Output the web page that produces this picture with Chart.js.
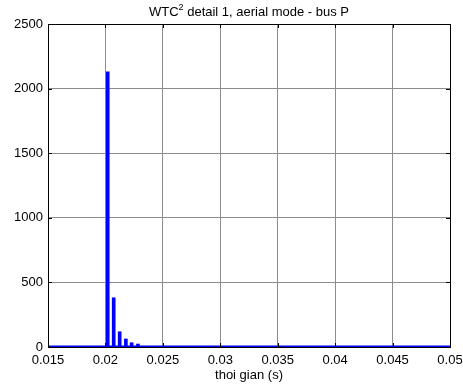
<!DOCTYPE html>
<html><head><meta charset="utf-8">
<script src="https://cdn.jsdelivr.net/npm/chart.js@4/dist/chart.umd.min.js"></script>
<style>html,body{margin:0;padding:0;background:#fff}#wrap{width:463px;height:385px}</style>
</head><body><div id="wrap"><canvas id="c" width="463" height="385"></canvas></div>
<script>
const titleMain = 'WTC';
const titleSup = '2';
const titleRest = ' detail 1, aerial mode - bus P';
const xTitle = 'thoi gian (s)';
const spikeTimes = [0.0202, 0.02072, 0.02124, 0.02178, 0.02228, 0.02283];
const spikeValues = [2130, 381, 118, 62, 33, 23];
const baseTimes = [0.015, 0.05];
const baseValues = [0, 0];
const xTicks = [0.015, 0.02, 0.025, 0.03, 0.035, 0.04, 0.045, 0.05];
const yTicks = [0, 500, 1000, 1500, 2000, 2500];

const FAM = '"Liberation Sans", Arial, sans-serif';
const FONT = {family: FAM, size: 13};

const inwardTicks = {
  id: 'inwardTicks',
  afterDatasetsDraw(chart) {
    const {ctx, chartArea: a, scales: {x, y}} = chart;
    ctx.save();
    ctx.strokeStyle = '#000'; ctx.lineWidth = 1;
    ctx.beginPath();
    xTicks.forEach(v => { const px = Math.round(x.getPixelForValue(v)) + 0.5;
      ctx.moveTo(px, a.top); ctx.lineTo(px, a.top + 4);
      ctx.moveTo(px, a.bottom); ctx.lineTo(px, a.bottom - 4); });
    yTicks.forEach(v => { const py = Math.round(y.getPixelForValue(v)) + 0.5;
      ctx.moveTo(a.left, py); ctx.lineTo(a.left + 4, py);
      ctx.moveTo(a.right, py); ctx.lineTo(a.right - 4, py); });
    ctx.stroke();
    ctx.strokeRect(Math.round(a.left) + 0.5, Math.round(a.top) + 0.5, Math.round(a.right - a.left), Math.round(a.bottom - a.top));
    ctx.fillStyle = '#000';
    ctx.textBaseline = 'alphabetic';
    ctx.font = '13px ' + FAM;
    const w1 = ctx.measureText(titleMain).width, w3 = ctx.measureText(titleRest).width;
    ctx.font = '9px ' + FAM;
    const w2 = ctx.measureText(titleSup).width;
    const total = w1 + w2 + w3;
    let tx = (a.left + a.right) / 2 - total / 2;
    const base = 16;
    ctx.textAlign = 'left';
    ctx.font = '13px ' + FAM; ctx.fillText(titleMain, tx, base); tx += w1;
    ctx.font = '9px ' + FAM; ctx.fillText(titleSup, tx, base - 6); tx += w2;
    ctx.font = '13px ' + FAM; ctx.fillText(titleRest, tx, base);
    ctx.restore();
  }
};

new Chart(document.getElementById('c'), {
  type: 'bar',
  data: {
    datasets: [
      { type: 'bar', data: spikeTimes.map((t, i) => ({x: t, y: spikeValues[i]})),
        backgroundColor: '#0000ff', borderWidth: 0, barThickness: 3, order: 1 },
      { type: 'line', data: baseTimes.map((t, i) => ({x: t, y: baseValues[i]})),
        borderColor: '#0000ff', borderWidth: 3, pointRadius: 0, order: 0 }
    ]
  },
  options: {
    responsive: false, animation: false,
    layout: {padding: {left: 0, right: 13, top: 24, bottom: 0}},
    plugins: {legend: {display: false}, tooltip: {enabled: false}, title: {display: false}},
    scales: {
      x: {type: 'linear', min: 0.015, max: 0.05, offset: false,
        afterBuildTicks: s => { s.ticks = xTicks.map(v => ({value: v})); },
        afterFit: s => { s.height = 38; s.paddingRight = 0; s.paddingLeft = 0; },
        ticks: {color: '#000', font: FONT, maxRotation: 0, padding: 6, autoSkip: false,
          callback: v => String(+v.toFixed(3))},
        grid: {color: '#8c8c8c', drawTicks: false, lineWidth: 1, offset: false},
        border: {display: false},
        title: {display: true, text: xTitle, color: '#000', font: FONT, padding: {top: 0, bottom: 2}}
      },
      y: {min: 0, max: 2500,
        afterBuildTicks: s => { s.ticks = yTicks.map(v => ({value: v})); },
        afterFit: s => { s.width = 48; s.paddingTop = 0; s.paddingBottom = 0; },
        ticks: {color: '#000', font: FONT, padding: 5, callback: v => String(v)},
        grid: {color: '#8c8c8c', drawTicks: false, lineWidth: 1},
        border: {display: false}
      }
    }
  },
  plugins: [inwardTicks]
});
</script></body></html>
